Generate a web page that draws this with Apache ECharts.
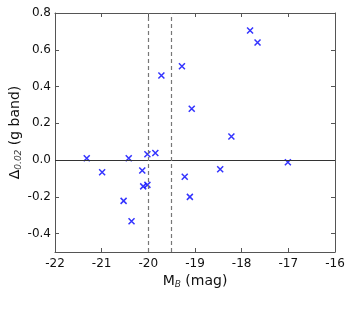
<!DOCTYPE html>
<html><head><meta charset="utf-8">
<script src="https://cdn.jsdelivr.net/npm/echarts@6/dist/echarts.min.js"></script>
<style>html,body{margin:0;padding:0;background:#fff}#c{width:360px;height:315px}</style>
</head><body><div id="c"></div>
<script>
const magB = [-21.32,-20.99,-20.42,-20.02,-19.85,-20.13,-20.11,-20.02,-20.53,-20.36,-19.72,-19.28,-19.07,-19.22,-19.11,-18.46,-17.82,-17.66,-18.22,-17.01];
const delta = [0.010,-0.066,0.010,0.032,0.039,-0.057,-0.143,-0.135,-0.222,-0.333,0.460,0.510,0.279,-0.091,-0.200,-0.050,0.705,0.640,0.128,-0.012];
const xTicks = [-22,-21,-20,-19,-18,-17,-16];
const yTicks = [-0.4,-0.2,0.0,0.2,0.4,0.6,0.8];
const vLines = [-20.0,-19.5];
const hLine = [0];

const pts = magB.map((x,i)=>[x,delta[i]]);
const font = 'DejaVu Sans';
const tickStyle = {inside:true,length:4,lineStyle:{color:'#555',width:1}};
const lineStyle = {color:'#555',width:1};

const chart = echarts.init(document.getElementById('c'));
chart.setOption({
  animation:false,
  backgroundColor:'#fff',
  grid:{left:55,right:25,top:13,bottom:63,containLabel:false,outerBoundsMode:'none'},
  xAxis:[{
    type:'value',min:-22,max:-16,
    axisLine:{show:true,onZero:false,lineStyle},
    axisTick:Object.assign({customValues:xTicks},tickStyle),
    axisLabel:{customValues:xTicks,color:'#111',fontFamily:font,fontSize:12,margin:6,formatter:v=>String(v)},
    splitLine:{show:false},
    name:'{n|M}{s|B}{n| (mag)}',nameLocation:'middle',nameGap:21,nameMoveOverlap:false,
    nameTextStyle:{fontFamily:font,color:'#111',rich:{n:{fontSize:14,fontFamily:font,color:'#111'},s:{fontSize:9,fontStyle:'italic',fontFamily:font,color:'#333',padding:[7,0,0,0]}}}
  },{
    type:'value',min:-22,max:-16,position:'top',
    axisLine:{show:true,onZero:false,lineStyle},
    axisTick:Object.assign({customValues:xTicks},tickStyle),
    axisLabel:{show:false},splitLine:{show:false}
  }],
  yAxis:[{
    type:'value',min:-0.5,max:0.8,
    axisLine:{show:true,onZero:false,lineStyle},
    axisTick:Object.assign({customValues:yTicks},tickStyle),
    axisLabel:{customValues:yTicks,color:'#111',fontFamily:font,fontSize:12,margin:4,formatter:v=>v.toFixed(1)},
    splitLine:{show:false},
    name:'{n|Δ}{s|0.02}{n| (g band)}',nameLocation:'middle',nameGap:32,nameRotate:90,nameMoveOverlap:false,
    nameTextStyle:{fontFamily:font,color:'#111',rich:{n:{fontSize:14,fontFamily:font,color:'#111'},s:{fontSize:9,fontStyle:'italic',fontFamily:font,color:'#333',padding:[7,0,0,0]}}}
  },{
    type:'value',min:-0.5,max:0.8,position:'right',
    axisLine:{show:true,onZero:false,lineStyle},
    axisTick:Object.assign({customValues:yTicks},tickStyle),
    axisLabel:{show:false},splitLine:{show:false}
  }],
  series:[{
    type:'scatter',
    data:pts,
    symbol:'path://M0,0L10,10M10,0L0,10',
    symbolSize:6,
    itemStyle:{color:'rgba(0,0,0,0)',borderColor:'#0000ff',borderWidth:1.5},
    markLine:{
      silent:true,symbol:['none','none'],label:{show:false},
      data:[
        ...hLine.map(v=>({yAxis:v,lineStyle:{color:'#333',width:1.2,type:'solid'}})),
        ...vLines.map(v=>({xAxis:v,lineStyle:{color:'#777',width:1.2,type:[4,3]}}))
      ]
    }
  }]
});
</script></body></html>
